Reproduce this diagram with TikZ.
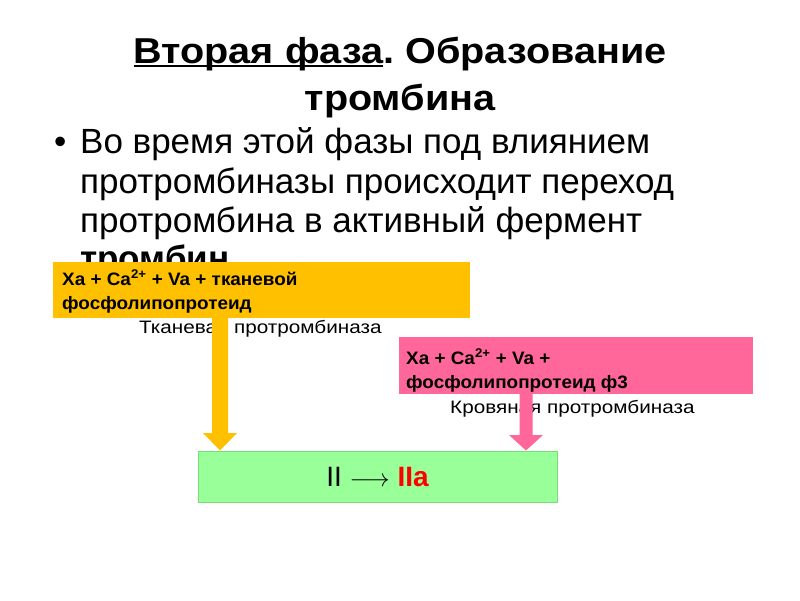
\documentclass[tikz,border=0pt]{standalone}
\usepackage{fontspec}
\setmainfont{Liberation Sans}
\newfontfamily\titlefont[FakeStretch=1.1]{Liberation Sans}
\newfontfamily\boxfont[FakeStretch=1.05]{Liberation Sans}
\newfontfamily\subfont[FakeStretch=1.15]{Liberation Sans}
\newcommand\myul[1]{\setbox0\hbox{#1}\rlap{\rule[-3.5pt]{\wd0}{1.8pt}}\box0}
\frenchspacing
\definecolor{orangebox}{HTML}{FFC000}
\definecolor{pinkbox}{HTML}{FF6699}
\definecolor{greenbox}{HTML}{99FF99}
\definecolor{greenedge}{HTML}{77DD77}
\definecolor{redtxt}{HTML}{FF0000}
\tikzset{
  titletxt/.style={font=\titlefont\fontsize{36}{40}\selectfont\bfseries, anchor=base, inner sep=0pt},
  bodytxt/.style={font=\fontsize{35}{43}\selectfont, anchor=base west, inner sep=0pt},
  boxtxt/.style={font=\boxfont\fontsize{18}{24}\selectfont\bfseries, anchor=base west, inner sep=0pt},
  subtxt/.style={font=\subfont\fontsize{18}{24}\selectfont, anchor=base west, inner sep=0pt},
}
\begin{document}
\begin{tikzpicture}[x=1pt,y=-1pt]
\useasboundingbox (0,0) rectangle (800,600);
% title
\node[titletxt] (t1) at (400,63) {\myul{Вторая фаза}. Образование};
\node[titletxt] (t2) at (400,110) {тромбина};
% bullet
\node[bodytxt] (bul) at (54,153) {•};
\node[bodytxt] (b1) at (80,153) {Во время этой фазы под влиянием};
\node[bodytxt] (b2) at (80,193) {протромбиназы происходит переход};
\node[bodytxt] (b3) at (80,232) {протромбина в активный фермент};
\node[bodytxt] (b4) at (80,270) {\bfseries тромбин};
% orange box
\fill[orangebox] (53,262) rectangle (470,318);
\node[boxtxt] (o1) at (62,285) {Xa + Ca\textsuperscript{2+} + Va + тканевой};
\node[boxtxt] (o2) at (62,309) {фосфолипопротеид};
\node[subtxt] (o3) at (139,333) {Тканевая протромбиназа};
% pink box
\fill[pinkbox] (399,337) rectangle (753,394);
\node[boxtxt] (p1) at (406,364) {Xa + Ca\textsuperscript{2+} + Va +};
\node[boxtxt] (p2) at (406,388) {фосфолипопротеид ф3};
\node[subtxt] (p3) at (450,413) {Кровяная протромбиназа};
% green box
\node[draw=greenedge, fill=greenbox, line width=1pt, minimum width=359pt, minimum height=51pt, inner sep=0pt,
      font=\fontsize{28}{32}\selectfont] (g) at (377.5,476.5) {II $\longrightarrow$ \textcolor{redtxt}{\bfseries IIa}};
% block arrows
\coordinate (oa) at (220,318);
\coordinate (pa) at (526,394);
\fill[orangebox] ([xshift=-8pt]oa) -- ([xshift=-8pt]oa |- 0,433) -- (203,433) -- (g.north -| oa) -- (237,433) -- ([xshift=8pt]oa |- 0,433) -- ([xshift=8pt]oa) -- cycle;
\fill[pinkbox] ([xshift=-6.5pt]pa) -- ([xshift=-6.5pt]pa |- 0,435) -- (509,435) -- (g.north -| pa) -- (543,435) -- ([xshift=6.5pt]pa |- 0,435) -- ([xshift=6.5pt]pa) -- cycle;
\end{tikzpicture}
\end{document}
